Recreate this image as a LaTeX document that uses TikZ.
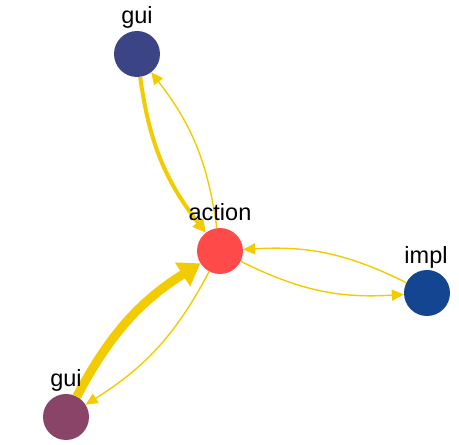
\documentclass[tikz,border=0pt]{standalone}
\usepackage{fontspec}
\setmainfont{Liberation Sans}
\usetikzlibrary{arrows.meta}
\definecolor{edgey}{RGB}{242,204,0}
\definecolor{guitop}{RGB}{59,69,134}
\definecolor{actc}{RGB}{255,74,74}
\definecolor{implc}{RGB}{19,69,144}
\definecolor{guibot}{RGB}{138,68,104}
\begin{document}
\begin{tikzpicture}[x=1pt,y=1pt,
  vert/.style={circle,minimum size=46pt,inner sep=0pt,draw=none},
  lbl/.style={anchor=base,inner sep=0pt,font=\fontsize{23.5}{26}\selectfont},
  thinedge/.style={draw=edgey,line width=1.4pt,-{Triangle[length=12pt,width=11pt]}},
  midedge/.style={draw=edgey,line width=4pt,-{Triangle[length=13pt,width=13pt]}},
  fatedge/.style={draw=edgey,line width=9pt,-{Triangle[length=21pt,width=27pt]}}]
\useasboundingbox (0,0) rectangle (459,445);
\node[vert,fill=guitop] (g1) at (137,391) {};
\node[vert,fill=actc] (a) at (220,194) {};
\node[vert,fill=implc] (i) at (427,152) {};
\node[vert,fill=guibot] (g2) at (66,28) {};
\draw[midedge] (g1) to[bend right=15] (a);
\draw[thinedge] (a) to[bend right=15] (g1);
\draw[fatedge] (g2) to[bend left=15] (a);
\draw[thinedge] (a) to[bend left=15] (g2);
\draw[thinedge] (a) to[bend right=15] (i);
\draw[thinedge] (i) to[bend right=15] (a);
\node[lbl] (lg1) at (137,421) {gui};
\node[lbl] (la) at (220,224) {action};
\node[lbl] (li) at (426,181) {impl};
\node[lbl] (lg2) at (66,58) {gui};
\end{tikzpicture}
\end{document}
